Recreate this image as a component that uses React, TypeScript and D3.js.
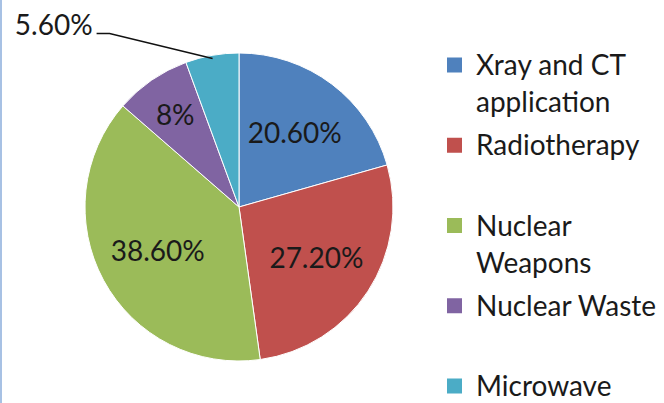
import React, { useEffect, useRef } from "react";
import * as d3 from "d3";

const sources = ["Xray and CT application", "Radiotherapy", "Nuclear Weapons", "Nuclear Waste", "Microwave"];
const shares = [20.6, 27.2, 38.6, 8, 5.6];
const shareLabels = ["20.60%", "27.20%", "38.60%", "8%", "5.60%"];
// legend text, broken into lines the way the chart wraps them
const legendLines = [["Xray and CT", "application"], ["Radiotherapy"], ["Nuclear", "Weapons"], ["Nuclear Waste"], ["Microwave"]];
const colors = ["#4f81bd", "#c0504d", "#9bbb59", "#8064a2", "#4bacc6"];

const W = 664;
const H = 403;
const FONT = "Lato, 'Open Sans', sans-serif";

export default function App() {
  const ref = useRef<SVGSVGElement>(null);

  useEffect(() => {
    const svg = d3.select(ref.current);
    svg.selectAll("*").remove();

    svg.append("rect").attr("width", W).attr("height", H).attr("fill", "#fff");
    // thin frame line on the left edge
    svg.append("rect").attr("x", 0).attr("y", 0).attr("width", 2).attr("height", H).attr("fill", "#a7c1e4");

    const cx = 239;
    const cy = 207;
    const r = 154;

    const data = sources.map((s, i) => ({ name: s, value: shares[i], label: shareLabels[i], color: colors[i] }));

    const pie = d3
      .pie<any>()
      .sort(null)
      .value((d) => d.value);
    const arcs = pie(data);

    const arc = d3.arc<any>().innerRadius(0).outerRadius(r);
    // centroid of a zero-width ring sits exactly on that radius
    const labelArc = d3.arc<any>().innerRadius(r * 0.6).outerRadius(r * 0.6);
    const smallArc = d3.arc<any>().innerRadius(r * 0.73).outerRadius(r * 0.73);
    const edgeArc = d3.arc<any>().innerRadius(r * 0.98).outerRadius(r * 0.98);

    const g = svg.append("g").attr("transform", "translate(" + cx + "," + cy + ")");

    g.selectAll("path.slice")
      .data(arcs)
      .enter()
      .append("path")
      .attr("class", "slice")
      .attr("d", arc)
      .attr("fill", (d) => d.data.color)
      .attr("stroke", "#fff")
      .attr("stroke-width", 1);

    // labels inside the slices
    const inside = arcs.filter((d) => d.data.value > 6);
    g.selectAll("text.pct")
      .data(inside)
      .enter()
      .append("text")
      .attr("class", "pct")
      .attr("transform", (d) => {
        const c = d.data.value < 10 ? smallArc.centroid(d) : labelArc.centroid(d);
        return "translate(" + c[0] + "," + c[1] + ")";
      })
      .attr("text-anchor", "middle")
      .attr("dy", "0.36em")
      .attr("font-family", FONT)
      .attr("font-size", 28)
      .attr("fill", "#1a1a1a")
      .text((d) => d.data.label);

    // the thin slice gets its label outside with a leader line
    const outside = arcs.filter((d) => d.data.value <= 6);
    outside.forEach((d) => {
      const p = edgeArc.centroid(d);
      const ex = p[0];
      const ey = p[1];
      const kx = ex - 103;
      const ky = ey - 25;
      g.append("path")
        .attr("d", "M" + ex + "," + ey + "L" + kx + "," + ky + "L" + (kx - 13) + "," + ky)
        .attr("fill", "none")
        .attr("stroke", "#111")
        .attr("stroke-width", 1.5);
      g.append("text")
        .attr("x", kx - 17)
        .attr("y", ky + 2)
        .attr("text-anchor", "end")
        .attr("font-family", FONT)
        .attr("font-size", 28)
        .attr("fill", "#1a1a1a")
        .text(d.data.label);
    });

    // legend
    const ly = d3.scalePoint<string>().domain(sources).range([65, 386]);
    const lg = svg.append("g");
    const items = lg
      .selectAll("g.item")
      .data(data)
      .enter()
      .append("g")
      .attr("class", "item")
      .attr("transform", (d) => "translate(447," + ly(d.name) + ")");

    items
      .append("rect")
      .attr("x", 0)
      .attr("y", -7.5)
      .attr("width", 15)
      .attr("height", 15)
      .attr("fill", (d) => d.color);

    items.each(function (d, i) {
      const t = d3
        .select(this)
        .append("text")
        .attr("font-family", FONT)
        .attr("font-size", 28)
        .attr("fill", "#1a1a1a");
      legendLines[i].forEach((line, j) => {
        t.append("tspan").attr("x", 29).attr("y", 10 + j * 37).text(line);
      });
    });
  }, []);

  return (
    <svg
      ref={ref}
      width={W}
      height={H}
      style={{ position: "fixed", left: 0, top: 0, display: "block" }}
    />
  );
}
